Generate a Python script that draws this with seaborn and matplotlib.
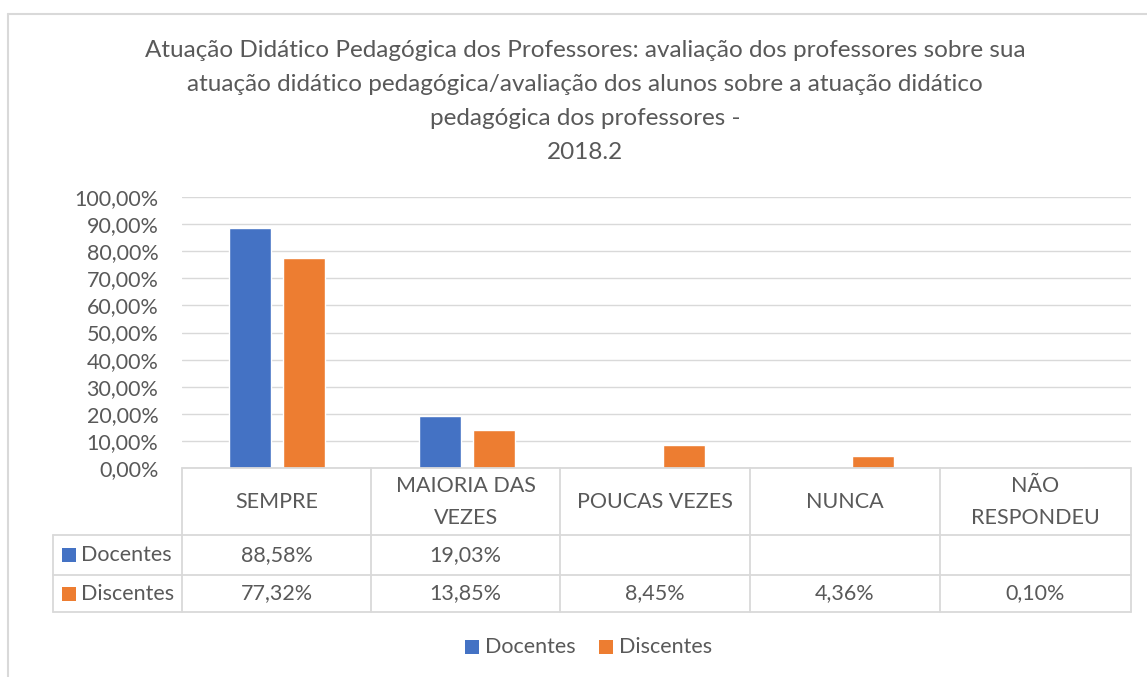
import numpy as np
import pandas as pd
import matplotlib
matplotlib.use("Agg")
import matplotlib.pyplot as plt
import seaborn as sns
from matplotlib.lines import Line2D
from matplotlib.patches import Rectangle

categories = ["SEMPRE", "MAIORIA DAS\nVEZES", "POUCAS VEZES", "NUNCA", "NÃO\nRESPONDEU"]
docentes = [88.58, 19.03, np.nan, np.nan, np.nan]
discentes = [77.32, 13.85, 8.45, 4.36, 0.10]
series = ["Docentes", "Discentes"]
colors = ["#4472C4", "#ED7D31"]
yticks = [0, 10, 20, 30, 40, 50, 60, 70, 80, 90, 100]
title = ("Atuação Didático Pedagógica dos Professores: avaliação dos professores sobre sua\n"
         "atuação didático pedagógica/avaliação dos alunos sobre a atuação didático\n"
         "pedagógica dos professores -\n2018.2")

sns.set_theme(style="white")
FONT = ["Lato", "DejaVu Sans"]
plt.rcParams["font.family"] = FONT
TXT = "#595959"
GRID = "#D9D9D9"
FS = 15.5

W, H = 1147, 677
fig = plt.figure(figsize=(W / 100, H / 100), dpi=100)

def fx(x):
    return x / W

def fy(y):
    return 1 - y / H

ax_l, ax_r, ax_t, ax_b = 182, 1131, 197, 468
ax = fig.add_axes([fx(ax_l), fy(ax_b), fx(ax_r - ax_l), (ax_b - ax_t) / H])

df = pd.DataFrame({
    "cat": categories * 2,
    "serie": [series[0]] * 5 + [series[1]] * 5,
    "val": docentes + discentes,
})
sns.barplot(data=df, x="cat", y="val", hue="serie", order=categories,
            hue_order=series, palette=colors, width=0.571, gap=0.222,
            ax=ax, legend=False, saturation=1)
ax.set_xlim(-0.5, len(categories) - 0.5)
ax.set_ylim(0, 100)
ax.set_yticks(yticks)
ax.set_yticklabels([f"{v:.2f}".replace(".", ",") + "%" for v in yticks],
                   fontsize=FS, color=TXT)
ax.set_xticks([])
ax.set_xlabel("")
ax.set_ylabel("")
ax.tick_params(axis="y", length=0, pad=17)
ax.yaxis.grid(True, color=GRID, linewidth=1)
ax.set_axisbelow(True)
for s in ax.spines.values():
    s.set_visible(False)

# chart border
fig.add_artist(Line2D([fx(8), fx(8)], [fy(14), fy(H + 5)], color=GRID, lw=1.5))
fig.add_artist(Line2D([fx(8), fx(W + 5)], [fy(14), fy(14)], color=GRID, lw=1.5))

# title
fig.text(fx(585), fy(40), title, ha="center", va="top", fontsize=17.5,
         color=TXT, linespacing=1.76, family=FONT)

# data table
col_x = [182, 371, 560, 750, 940, 1131]
lab_l = 53
rows_y = [468, 535, 575, 612]
def hline(x0, x1, y):
    fig.add_artist(Line2D([fx(x0), fx(x1)], [fy(y), fy(y)], color=GRID, lw=1.3))
def vline(x, y0, y1):
    fig.add_artist(Line2D([fx(x), fx(x)], [fy(y0), fy(y1)], color=GRID, lw=1.3))

hline(col_x[0], col_x[-1], rows_y[0])
for y in rows_y[1:]:
    hline(lab_l, col_x[-1], y)
for x in col_x:
    vline(x, rows_y[0], rows_y[-1])
vline(lab_l, rows_y[1], rows_y[-1])

for i, c in enumerate(categories):
    cx = (col_x[i] + col_x[i + 1]) / 2
    fig.text(fx(cx), fy((rows_y[0] + rows_y[1]) / 2), c, ha="center", va="center",
             fontsize=FS, color=TXT, linespacing=1.75, family=FONT)

vals = [docentes, discentes]
for r in range(2):
    cy = (rows_y[r + 1] + rows_y[r + 2]) / 2
    fig.add_artist(Rectangle((fx(62), fy(cy + 7)), fx(14), 14 / H,
                             color=colors[r], lw=0))
    fig.text(fx(81), fy(cy), series[r], ha="left", va="center", fontsize=FS,
             color=TXT, family=FONT)
    for i, v in enumerate(vals[r]):
        if not np.isnan(v):
            cx = (col_x[i] + col_x[i + 1]) / 2
            fig.text(fx(cx), fy(cy), f"{v:.2f}".replace(".", ",") + "%",
                     ha="center", va="center", fontsize=FS, color=TXT, family=FONT)

# bottom legend
leg_y = 647
leg_pos = [(465, 485), (599, 619)]
for r in range(2):
    kx, tx = leg_pos[r]
    fig.add_artist(Rectangle((fx(kx), fy(leg_y + 7)), fx(14), 14 / H,
                             color=colors[r], lw=0))
    fig.text(fx(tx), fy(leg_y), series[r], ha="left", va="center", fontsize=FS,
             color=TXT, family=FONT)

fig.savefig("out.png", dpi=100, facecolor="white")
